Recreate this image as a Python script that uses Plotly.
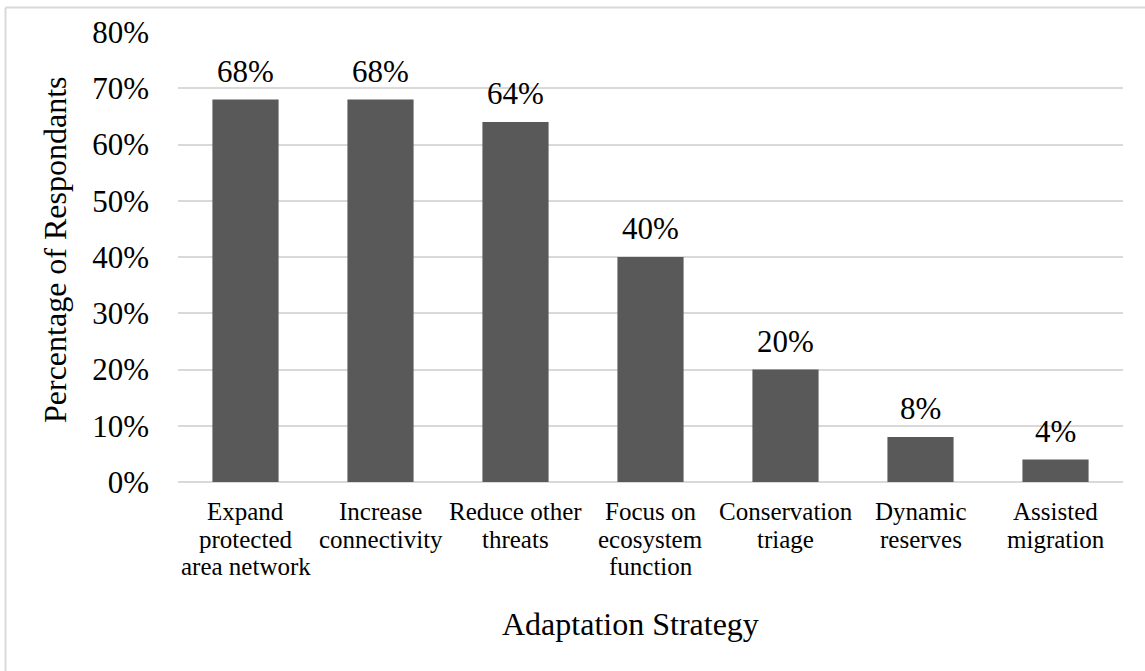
import plotly.graph_objects as go

categories = ["Expand<br>protected<br>area network", "Increase<br>connectivity",
              "Reduce other<br>threats", "Focus on<br>ecosystem<br>function",
              "Conservation<br>triage", "Dynamic<br>reserves", "Assisted<br>migration"]
values = [68, 68, 64, 40, 20, 8, 4]
y_ticks = [0, 10, 20, 30, 40, 50, 60, 70, 80]
x_title = "Adaptation Strategy"
y_title = "Percentage of Respondants"

FONT = "Liberation Serif, Times New Roman, serif"
W, H = 1145, 671
L, R, T, B = 178, 22, 32, 189
pw = W - L - R
ph = H - T - B


def px_x(px):
    return (px - L) / pw


def px_y(py):
    return (H - B - py) / ph


fig = go.Figure()
fig.add_trace(go.Bar(x=categories, y=values, marker=dict(color="#595959", line=dict(width=0)),
                     width=0.49, hoverinfo="skip"))

for c, v in zip(categories, values):
    fig.add_annotation(x=c, y=v, text=f"{v}%", showarrow=False, yanchor="bottom",
                       yshift=9, font=dict(family=FONT, size=31, color="#000"))

# category labels, one annotation per line for tighter line spacing
for c in categories:
    for i, line in enumerate(c.split("<br>")):
        fig.add_annotation(x=c, y=0, text=line, showarrow=False, yanchor="middle",
                           yshift=-(29.6 + i * 27.5),
                           font=dict(family=FONT, size=25, color="#000"))

fig.add_annotation(xref="paper", yref="paper", x=px_x(630), y=px_y(624), text=x_title,
                   showarrow=False, xanchor="center", yanchor="middle",
                   font=dict(family=FONT, size=32, color="#000"))
fig.add_annotation(xref="paper", yref="paper", x=px_x(55), y=px_y(249), text=y_title,
                   showarrow=False, xanchor="center", yanchor="middle", textangle=-90,
                   font=dict(family=FONT, size=32, color="#000"))

bx = px_x(5.5)
by = px_y(7.5)
fig.add_shape(type="line", xref="paper", yref="paper", x0=bx, x1=bx, y0=by, y1=-1,
              line=dict(color="#d9d9d9", width=2))
fig.add_shape(type="line", xref="paper", yref="paper", x0=bx, x1=1.2, y0=by, y1=by,
              line=dict(color="#d9d9d9", width=2))

fig.update_layout(
    width=W, height=H, margin=dict(l=L, r=R, t=T, b=B),
    paper_bgcolor="white", plot_bgcolor="white", showlegend=False,
    font=dict(family=FONT, color="#000"),
    xaxis=dict(showgrid=False, showline=False, ticks="", showticklabels=False),
    yaxis=dict(range=[0, 80], tickvals=y_ticks, ticktext=[f"{t}%" for t in y_ticks],
               showgrid=True, gridcolor="#d9d9d9", gridwidth=1.5,
               zeroline=True, zerolinecolor="#d9d9d9", zerolinewidth=1.5,
               showline=False, ticks="", tickfont=dict(size=31), ticklabelstandoff=28),
)

fig.write_html("out.html")
